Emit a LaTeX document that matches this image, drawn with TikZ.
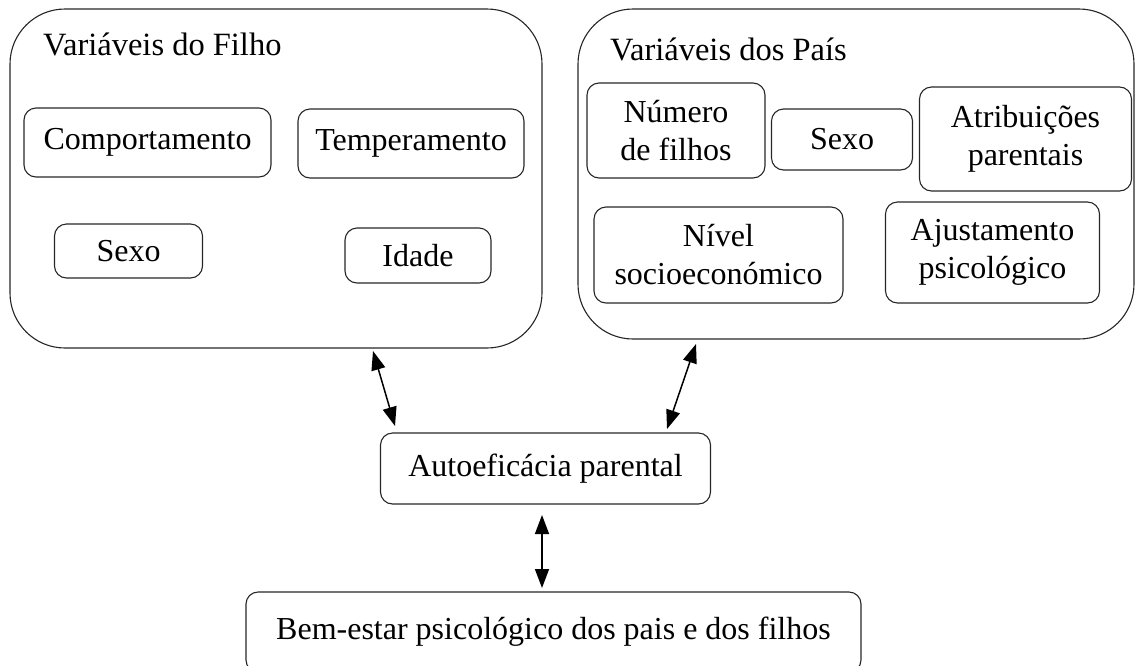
\documentclass[tikz,border=0pt]{standalone}
\usepackage{fontspec}
\setmainfont{Liberation Serif}
\usetikzlibrary{arrows.meta}
\tikzset{
  outerbox/.style={draw=black!85, line width=1.1pt, rounded corners=55pt, inner sep=0pt},
  ibox/.style={draw=black!85, line width=1.1pt, rounded corners=12pt, inner sep=0pt, align=center,
    font=\fontsize{32}{38}\selectfont},
  ttl/.style={anchor=base west, inner sep=0pt, font=\fontsize{32.5}{38}\selectfont},
  dbl/.style={line width=1.5pt, {Triangle[length=19pt,width=14pt]}-{Triangle[length=19pt,width=14pt]}}
}
\begin{document}
\begin{tikzpicture}[x=1pt,y=-1pt]
\useasboundingbox (0,0) rectangle (1135,665);
\clip (0,0) rectangle (1135,665);
% outer boxes
\node[outerbox, minimum width=532, minimum height=339] (filho) at (276,178.5) {};
\node[outerbox, minimum width=556, minimum height=330] (pais) at (856,174) {};
\node[ttl] (tfilho) at (43,55) {Variáveis do Filho};
\node[ttl] (tpais) at (610,60) {Variáveis dos País};
% child variables
\node[ibox, minimum width=247, minimum height=69] (comp) at (147.5,142.5) {Comportamento};
\node[ibox, minimum width=226, minimum height=69] (temp) at (411,143.5) {Temperamento};
\node[ibox, minimum width=148, minimum height=54] (sexof) at (128.5,251) {Sexo};
\node[ibox, minimum width=146, minimum height=55] (idade) at (418,255.5) {Idade};
% parent variables
\node[ibox, minimum width=178, minimum height=95] (num) at (676,130.5) {Número\\de filhos};
\node[ibox, minimum width=141, minimum height=61] (sexop) at (842,139.5) {Sexo};
\node[ibox, minimum width=212, minimum height=104] (atr) at (1025.5,139) {Atribuições\\parentais};
\node[ibox, minimum width=249, minimum height=96] (nivel) at (718.5,255) {Nível\\socioeconómico};
\node[ibox, minimum width=214, minimum height=101] (ajust) at (992.5,252.5) {Ajustamento\\psicológico};
% central
\node[ibox, minimum width=330, minimum height=71] (auto) at (545.5,468.5) {Autoeficácia parental};
\node[ibox, minimum width=615, minimum height=80] (bem) at (553.5,632) {\raisebox{4pt}{Bem-estar psicológico dos pais e dos filhos}};
% connectors
\coordinate (a1) at (373,351);
\coordinate (a2) at (395,426);
\coordinate (b1) at (696,344);
\coordinate (b2) at (667,429);
\coordinate (c1) at (542,515);
\coordinate (c2) at (542,588);
\draw[dbl] (a1) -- (a2);
\draw[dbl] (b1) -- (b2);
\draw[dbl] (c1) -- (c2);
\end{tikzpicture}
\end{document}
